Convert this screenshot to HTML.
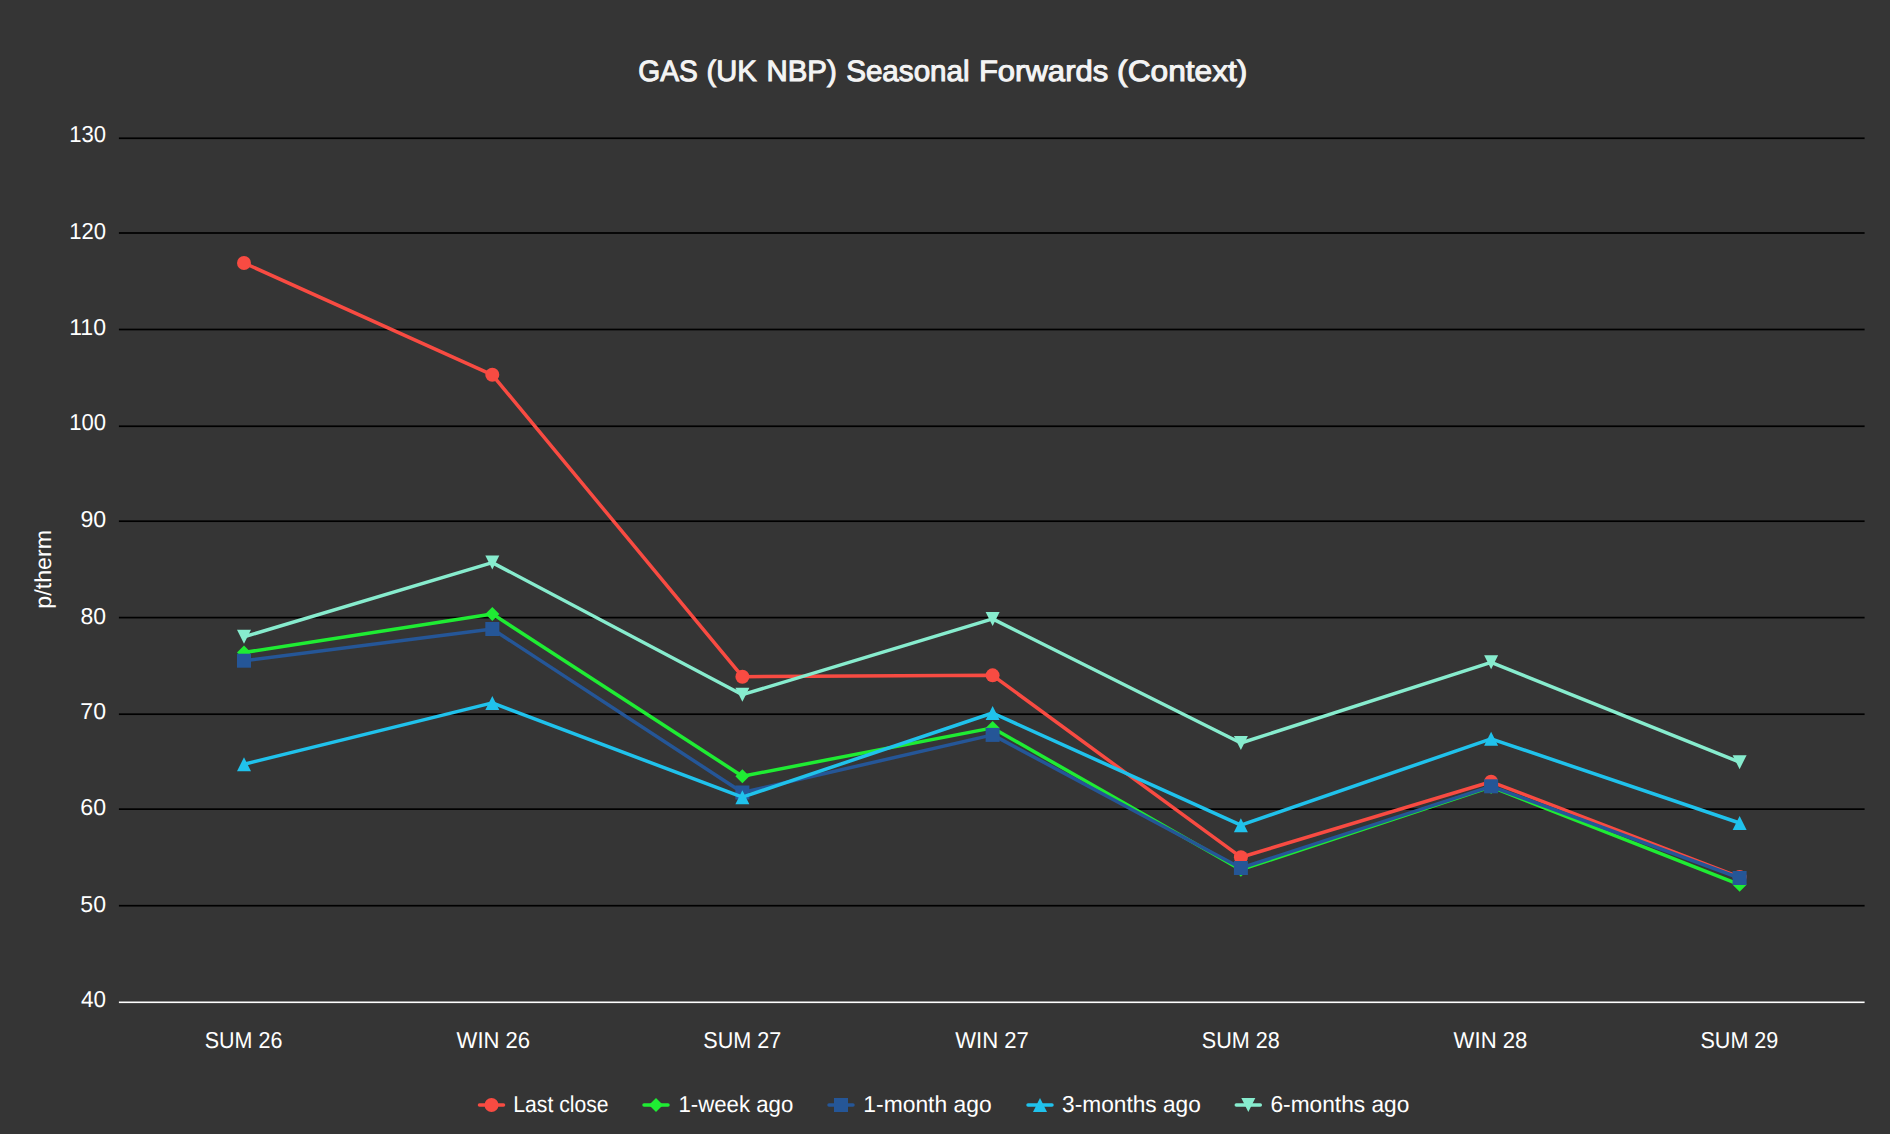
<!DOCTYPE html>
<html lang="en">
<head>
<meta charset="utf-8">
<title>GAS (UK NBP) Seasonal Forwards (Context)</title>
<style>
html,body{margin:0;padding:0;background:#353535;}
body{width:1890px;height:1134px;overflow:hidden;}
svg{display:block;}
text{font-family:"Liberation Sans",Arial,sans-serif;fill:#fff;white-space:pre;text-rendering:geometricPrecision;}
.t{font-size:29.5px;fill:#f4f4f4;stroke:#f4f4f4;stroke-width:1.0px;stroke-linejoin:miter;}
.l{font-size:23px;}
</style>
</head>
<body>
<svg width="1890" height="1134" viewBox="0 0 1890 1134">
<rect x="0" y="0" width="1890" height="1134" fill="#353535"/>
<text class="t"><tspan x="638.34" y="81.00" textLength="59.44" lengthAdjust="spacingAndGlyphs">GAS</tspan> <tspan x="706.57" y="81.00" textLength="50.18" lengthAdjust="spacingAndGlyphs">(UK</tspan> <tspan x="766.49" y="81.00" textLength="70.22" lengthAdjust="spacingAndGlyphs">NBP)</tspan> <tspan x="846.13" y="81.00" textLength="123.51" lengthAdjust="spacingAndGlyphs">Seasonal</tspan> <tspan x="978.90" y="81.00" textLength="129.37" lengthAdjust="spacingAndGlyphs">Forwards</tspan> <tspan x="1117.14" y="81.00" textLength="130.29" lengthAdjust="spacingAndGlyphs">(Context)</tspan></text>
<g fill="#000">
<rect x="118.9" y="137.40" width="1745.7" height="1.7"/>
<rect x="118.9" y="232.15" width="1745.7" height="1.7"/>
<rect x="118.9" y="328.65" width="1745.7" height="1.7"/>
<rect x="118.9" y="425.40" width="1745.7" height="1.7"/>
<rect x="118.9" y="520.35" width="1745.7" height="1.7"/>
<rect x="118.9" y="616.75" width="1745.7" height="1.7"/>
<rect x="118.9" y="713.35" width="1745.7" height="1.7"/>
<rect x="118.9" y="808.30" width="1745.7" height="1.7"/>
<rect x="118.9" y="904.85" width="1745.7" height="1.7"/>
</g>
<rect x="118.9" y="1001.50" width="1745.7" height="1.6" fill="#fff"/>
<text class="l" x="69.22" y="142.00" textLength="36.80" lengthAdjust="spacingAndGlyphs">130</text>
<text class="l" x="69.22" y="239.00" textLength="36.80" lengthAdjust="spacingAndGlyphs">120</text>
<text class="l" x="69.23" y="335.00" textLength="36.81" lengthAdjust="spacingAndGlyphs">110</text>
<text class="l" x="69.22" y="430.00" textLength="36.80" lengthAdjust="spacingAndGlyphs">100</text>
<text class="l" x="80.42" y="527.00" textLength="25.78" lengthAdjust="spacingAndGlyphs">90</text>
<text class="l" x="80.43" y="624.00" textLength="25.57" lengthAdjust="spacingAndGlyphs">80</text>
<text class="l" x="80.34" y="719.00" textLength="25.68" lengthAdjust="spacingAndGlyphs">70</text>
<text class="l" x="80.25" y="815.00" textLength="25.77" lengthAdjust="spacingAndGlyphs">60</text>
<text class="l" x="80.31" y="912.00" textLength="25.67" lengthAdjust="spacingAndGlyphs">50</text>
<text class="l" x="80.93" y="1007.00" textLength="24.95" lengthAdjust="spacingAndGlyphs">40</text>
<text class="l" transform="translate(50.6 569.3) rotate(-90)" text-anchor="middle" textLength="78.7" lengthAdjust="spacingAndGlyphs">p/therm</text>
<text class="l" x="204.70" y="1048.00" textLength="77.69" lengthAdjust="spacingAndGlyphs">SUM 26</text>
<text class="l" x="456.61" y="1048.00" textLength="73.53" lengthAdjust="spacingAndGlyphs">WIN 26</text>
<text class="l" x="703.24" y="1048.00" textLength="78.01" lengthAdjust="spacingAndGlyphs">SUM 27</text>
<text class="l" x="955.20" y="1048.00" textLength="73.72" lengthAdjust="spacingAndGlyphs">WIN 27</text>
<text class="l" x="1201.80" y="1048.00" textLength="77.95" lengthAdjust="spacingAndGlyphs">SUM 28</text>
<text class="l" x="1453.62" y="1048.00" textLength="73.78" lengthAdjust="spacingAndGlyphs">WIN 28</text>
<text class="l" x="1700.46" y="1048.00" textLength="77.90" lengthAdjust="spacingAndGlyphs">SUM 29</text>
<g><polyline points="244.00,263.00 492.30,374.80 742.40,676.70 992.60,675.35 1240.90,857.20 1491.10,781.80 1739.60,877.10" fill="none" stroke="#F84B42" stroke-width="3.5" stroke-linejoin="round" stroke-linecap="round"/>
<circle cx="244.00" cy="263.00" r="7.0" fill="#F84B42"/>
<circle cx="492.30" cy="374.80" r="7.0" fill="#F84B42"/>
<circle cx="742.40" cy="676.70" r="7.0" fill="#F84B42"/>
<circle cx="992.60" cy="675.35" r="7.0" fill="#F84B42"/>
<circle cx="1240.90" cy="857.20" r="7.0" fill="#F84B42"/>
<circle cx="1491.10" cy="781.80" r="7.0" fill="#F84B42"/>
<circle cx="1739.60" cy="877.10" r="7.0" fill="#F84B42"/>
</g>
<g><polyline points="244.00,652.50 492.30,613.90 742.40,776.20 992.60,727.90 1240.90,869.70 1491.10,786.90 1739.60,884.70" fill="none" stroke="#1FEC33" stroke-width="3.5" stroke-linejoin="round" stroke-linecap="round"/>
<path d="M244.00 645.50L251.00 652.50L244.00 659.50L237.00 652.50Z" fill="#1FEC33"/>
<path d="M492.30 606.90L499.30 613.90L492.30 620.90L485.30 613.90Z" fill="#1FEC33"/>
<path d="M742.40 769.20L749.40 776.20L742.40 783.20L735.40 776.20Z" fill="#1FEC33"/>
<path d="M992.60 720.90L999.60 727.90L992.60 734.90L985.60 727.90Z" fill="#1FEC33"/>
<path d="M1240.90 862.70L1247.90 869.70L1240.90 876.70L1233.90 869.70Z" fill="#1FEC33"/>
<path d="M1491.10 779.90L1498.10 786.90L1491.10 793.90L1484.10 786.90Z" fill="#1FEC33"/>
<path d="M1739.60 877.70L1746.60 884.70L1739.60 891.70L1732.60 884.70Z" fill="#1FEC33"/>
</g>
<g><polyline points="244.00,660.70 492.30,629.00 742.40,792.50 992.60,734.90 1240.90,868.00 1491.10,786.30 1739.60,878.00" fill="none" stroke="#255697" stroke-width="3.5" stroke-linejoin="round" stroke-linecap="round"/>
<rect x="237.00" y="653.70" width="14.0" height="14.0" fill="#255697"/>
<rect x="485.30" y="622.00" width="14.0" height="14.0" fill="#255697"/>
<rect x="735.40" y="785.50" width="14.0" height="14.0" fill="#255697"/>
<rect x="985.60" y="727.90" width="14.0" height="14.0" fill="#255697"/>
<rect x="1233.90" y="861.00" width="14.0" height="14.0" fill="#255697"/>
<rect x="1484.10" y="779.30" width="14.0" height="14.0" fill="#255697"/>
<rect x="1732.60" y="871.00" width="14.0" height="14.0" fill="#255697"/>
</g>
<g><polyline points="244.00,764.20 492.30,702.90 742.40,797.20 992.60,713.00 1240.90,825.20 1491.10,738.80 1739.60,823.00" fill="none" stroke="#20C2EC" stroke-width="3.5" stroke-linejoin="round" stroke-linecap="round"/>
<path d="M244.00 757.20L251.00 771.20L237.00 771.20Z" fill="#20C2EC"/>
<path d="M492.30 695.90L499.30 709.90L485.30 709.90Z" fill="#20C2EC"/>
<path d="M742.40 790.20L749.40 804.20L735.40 804.20Z" fill="#20C2EC"/>
<path d="M992.60 706.00L999.60 720.00L985.60 720.00Z" fill="#20C2EC"/>
<path d="M1240.90 818.20L1247.90 832.20L1233.90 832.20Z" fill="#20C2EC"/>
<path d="M1491.10 731.80L1498.10 745.80L1484.10 745.80Z" fill="#20C2EC"/>
<path d="M1739.60 816.00L1746.60 830.00L1732.60 830.00Z" fill="#20C2EC"/>
</g>
<g><polyline points="244.00,636.80 492.30,562.60 742.40,694.70 992.60,618.90 1240.90,743.00 1491.10,662.30 1739.60,762.20" fill="none" stroke="#87ECCE" stroke-width="3.5" stroke-linejoin="round" stroke-linecap="round"/>
<path d="M237.00 629.80L251.00 629.80L244.00 643.80Z" fill="#87ECCE"/>
<path d="M485.30 555.60L499.30 555.60L492.30 569.60Z" fill="#87ECCE"/>
<path d="M735.40 687.70L749.40 687.70L742.40 701.70Z" fill="#87ECCE"/>
<path d="M985.60 611.90L999.60 611.90L992.60 625.90Z" fill="#87ECCE"/>
<path d="M1233.90 736.00L1247.90 736.00L1240.90 750.00Z" fill="#87ECCE"/>
<path d="M1484.10 655.30L1498.10 655.30L1491.10 669.30Z" fill="#87ECCE"/>
<path d="M1732.60 755.20L1746.60 755.20L1739.60 769.20Z" fill="#87ECCE"/>
</g>
<line x1="479.50" y1="1105.0" x2="503.50" y2="1105.0" stroke="#F84B42" stroke-width="3.5" stroke-linecap="round"/>
<circle cx="491.50" cy="1105.00" r="7.0" fill="#F84B42"/>
<text class="l" x="513.33" y="1111.90" textLength="95.22" lengthAdjust="spacingAndGlyphs">Last close</text>
<line x1="644.00" y1="1105.0" x2="668.00" y2="1105.0" stroke="#1FEC33" stroke-width="3.5" stroke-linecap="round"/>
<path d="M656.00 1098.00L663.00 1105.00L656.00 1112.00L649.00 1105.00Z" fill="#1FEC33"/>
<text class="l" x="678.41" y="1111.90" textLength="114.88" lengthAdjust="spacingAndGlyphs">1-week ago</text>
<line x1="829.00" y1="1105.0" x2="853.00" y2="1105.0" stroke="#255697" stroke-width="3.5" stroke-linecap="round"/>
<rect x="834.00" y="1098.00" width="14.0" height="14.0" fill="#255697"/>
<text class="l" x="863.33" y="1111.90" textLength="128.30" lengthAdjust="spacingAndGlyphs">1-month ago</text>
<line x1="1028.00" y1="1105.0" x2="1052.00" y2="1105.0" stroke="#20C2EC" stroke-width="3.5" stroke-linecap="round"/>
<path d="M1040.00 1098.00L1047.00 1112.00L1033.00 1112.00Z" fill="#20C2EC"/>
<text class="l" x="1062.09" y="1111.90" textLength="138.77" lengthAdjust="spacingAndGlyphs">3-months ago</text>
<line x1="1236.30" y1="1105.0" x2="1260.30" y2="1105.0" stroke="#87ECCE" stroke-width="3.5" stroke-linecap="round"/>
<path d="M1241.30 1098.00L1255.30 1098.00L1248.30 1112.00Z" fill="#87ECCE"/>
<text class="l" x="1270.49" y="1111.90" textLength="138.88" lengthAdjust="spacingAndGlyphs">6-months ago</text>
</svg>
</body>
</html>
